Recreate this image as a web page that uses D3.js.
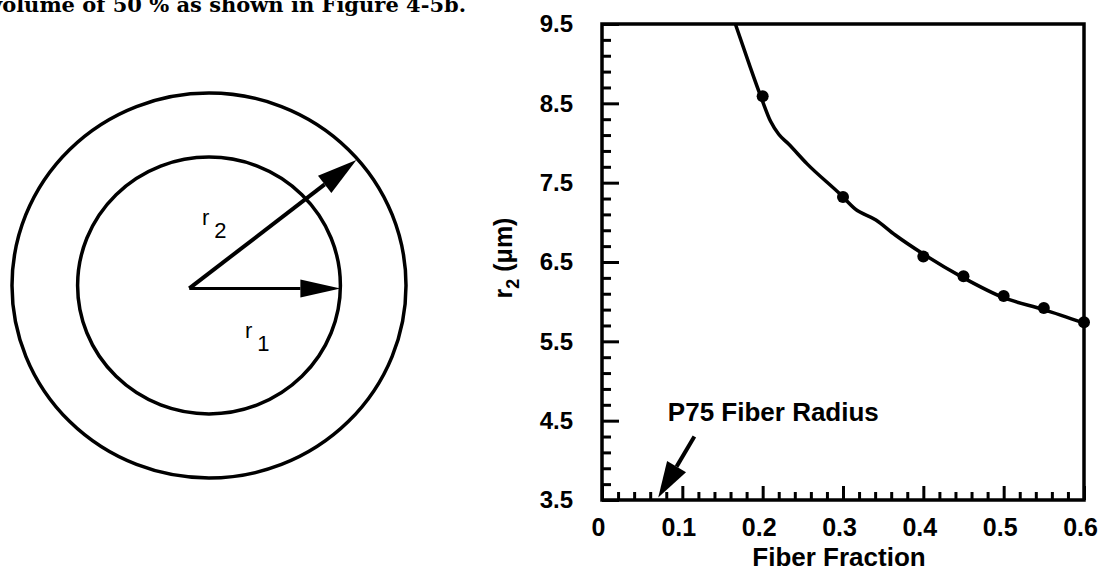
<!DOCTYPE html>
<html>
<head>
<meta charset="utf-8">
<script src="https://cdn.jsdelivr.net/npm/d3@7"></script>
<style>
  body { margin: 0; background: #fff; }
  svg text { font-family: "Liberation Sans", Arial, sans-serif; fill: #000; }
</style>
</head>
<body>
<div id="chart"></div>
<script>
// Values
var markerX = [0.2, 0.3, 0.4, 0.45, 0.5, 0.55, 0.6];
var markerY = [8.59, 7.32, 6.57, 6.32, 6.07, 5.92, 5.74];

// fitted curve drawn through the markers
var curveX = [0.166, 0.183, 0.199, 0.21, 0.22, 0.232, 0.255, 0.297, 0.315, 0.341, 0.365, 0.4, 0.45, 0.5, 0.55, 0.6];
var curveY = [9.5, 9.0, 8.55, 8.27, 8.11, 7.99, 7.74, 7.35, 7.17, 7.03, 6.84, 6.6, 6.3, 6.05, 5.9, 5.73];

var xTicks = [0, 0.1, 0.2, 0.3, 0.4, 0.5, 0.6];
var xTickLabels = ["0", "0.1", "0.2", "0.3", "0.4", "0.5", "0.6"];
var yTicks = [3.5, 4.5, 5.5, 6.5, 7.5, 8.5, 9.5];
var yTickLabels = ["3.5", "4.5", "5.5", "6.5", "7.5", "8.5", "9.5"];

var width = 1114, height = 574;

var svg = d3.select("#chart")
    .append("svg")
    .attr("width", width)
    .attr("height", height);

// cut-off line of body text at the top of the page
svg.append("text")
    .attr("x", 466)
    .attr("y", 12)
    .attr("text-anchor", "end")
    .style("font-family", "'DejaVu Serif', serif")
    .style("font-weight", "bold")
    .style("font-size", "21px")
    .text("volume of 50 % as shown in Figure 4-5b.");

// ---------- left: fiber / matrix cell diagram ----------
var dx = d3.scaleLinear().domain([-1, 1]).range([12, 406]);
var dy = d3.scaleLinear().domain([-1, 1]).range([478, 93]);
var r1 = 0.667, r2 = 1;
var origin = [-0.1, -0.015];

var diag = svg.append("g");

diag.selectAll("ellipse")
    .data([r2, r1])
    .enter()
    .append("ellipse")
    .attr("cx", dx(0))
    .attr("cy", dy(0))
    .attr("rx", function(d) { return dx(d) - dx(0); })
    .attr("ry", function(d) { return dy(0) - dy(d); })
    .attr("fill", "none")
    .attr("stroke", "#000")
    .attr("stroke-width", 3.5);

function arrow(g, x1, y1, x2, y2, w, headLen, headHalf) {
    var ang = Math.atan2(y2 - y1, x2 - x1);
    var bx = x2 - headLen * Math.cos(ang), by = y2 - headLen * Math.sin(ang);
    g.append("line")
        .attr("x1", x1).attr("y1", y1)
        .attr("x2", bx).attr("y2", by)
        .attr("stroke", "#000")
        .attr("stroke-width", w);
    var px = -Math.sin(ang) * headHalf, py = Math.cos(ang) * headHalf;
    g.append("path")
        .attr("d", "M" + x2 + "," + y2 +
                   "L" + (bx + px) + "," + (by + py) +
                   "L" + (bx - px) + "," + (by - py) + "Z")
        .attr("fill", "#000");
}

var ox = dx(origin[0]), oy = dy(origin[1]);
// r1 to the inner circle, r2 to the outer circle
var a2 = 0.71;
arrow(diag, ox, oy, dx(r1), oy, 3, 40, 9);
arrow(diag, ox, oy, dx(0) + (dx(r2) - dx(0)) * Math.cos(a2) - 2, dy(0) - (dy(0) - dy(r2)) * Math.sin(a2), 4, 40, 11);

function radiusLabel(x, y, sub) {
    var t = diag.append("text")
        .attr("x", x)
        .attr("y", y)
        .style("font-size", "22px");
    t.append("tspan").text("r");
    t.append("tspan").attr("dx", 5).attr("dy", 13).text(sub);
}
radiusLabel(202, 225, "2");
radiusLabel(245, 338, "1");

// ---------- right: r2 vs fiber fraction ----------
var x = d3.scaleLinear().domain([0, 0.6]).range([602, 1084]);
var y = d3.scaleLinear().domain([3.5, 9.5]).range([500, 24]);

var plot = svg.append("g");

// minor ticks
var xMinor = d3.range(0.02, 0.6, 0.02).filter(function(v) { return Math.abs(v * 10 - Math.round(v * 10)) > 1e-6; });
var yMinor = d3.range(3.7, 9.5, 0.2).filter(function(v) { return Math.abs((v - 3.5) - Math.round(v - 3.5)) > 1e-6; });

plot.append("g")
    .attr("transform", "translate(0,500)")
    .call(d3.axisBottom(x).tickValues(xMinor).tickSizeInner(-8).tickSizeOuter(0).tickFormat(""))
    .call(function(g) { g.select(".domain").remove(); })
    .selectAll("line").attr("stroke-width", 3);

plot.append("g")
    .attr("transform", "translate(602,0)")
    .call(d3.axisLeft(y).tickValues(yMinor).tickSizeInner(-9).tickSizeOuter(0).tickFormat(""))
    .call(function(g) { g.select(".domain").remove(); })
    .selectAll("line").attr("stroke-width", 3);

// major ticks with labels
var xAxis = plot.append("g")
    .attr("transform", "translate(0,500)")
    .call(d3.axisBottom(x).tickValues(xTicks).tickSizeInner(-14).tickSizeOuter(0).tickPadding(18)
        .tickFormat(function(d, i) { return xTickLabels[i]; }));
xAxis.select(".domain").remove();
xAxis.selectAll("line").attr("stroke-width", 3);
xAxis.selectAll("text")
    .attr("dx", -4)
    .style("font-size", "25px")
    .style("font-weight", "bold")
    .style("font-family", "'Liberation Sans', Arial, sans-serif");

var yAxis = plot.append("g")
    .attr("transform", "translate(602,0)")
    .call(d3.axisLeft(y).tickValues(yTicks).tickSizeInner(-17).tickSizeOuter(0).tickPadding(29)
        .tickFormat(function(d, i) { return yTickLabels[i]; }));
yAxis.select(".domain").remove();
yAxis.selectAll("line").attr("stroke-width", 3);
yAxis.selectAll("text")
    .style("font-size", "24px")
    .style("font-weight", "bold")
    .style("font-family", "'Liberation Sans', Arial, sans-serif");

// frame
plot.append("rect")
    .attr("x", x(0))
    .attr("y", y(9.5))
    .attr("width", x(0.6) - x(0))
    .attr("height", y(3.5) - y(9.5))
    .attr("fill", "none")
    .attr("stroke", "#000")
    .attr("stroke-width", 3.5);

// fitted curve
var line = d3.line()
    .x(function(d) { return x(d[0]); })
    .y(function(d) { return y(d[1]); })
    .curve(d3.curveMonotoneX);

plot.append("path")
    .datum(d3.zip(curveX, curveY))
    .attr("d", line)
    .attr("fill", "none")
    .attr("stroke", "#000")
    .attr("stroke-width", 3.5);

// markers
plot.selectAll("circle")
    .data(d3.zip(markerX, markerY))
    .enter()
    .append("circle")
    .attr("cx", function(d) { return x(d[0]); })
    .attr("cy", function(d) { return y(d[1]); })
    .attr("r", 6)
    .attr("fill", "#000");

// annotation
plot.append("text")
    .attr("x", x(0.082))
    .attr("y", y(4.49))
    .style("font-size", "26px")
    .style("font-weight", "bold")
    .text("P75 Fiber Radius");
arrow(plot, x(0.115), y(4.3), x(0.07), y(3.53), 4, 36, 11);

// axis titles
plot.append("text")
    .attr("x", (x(0) + x(0.6)) / 2 - 4)
    .attr("y", 566)
    .attr("text-anchor", "middle")
    .style("font-size", "26px")
    .style("font-weight", "bold")
    .text("Fiber Fraction");

var yt = plot.append("text")
    .attr("transform", "translate(512," + (y(6.5) - 4) + ") rotate(-90)")
    .attr("text-anchor", "middle")
    .style("font-size", "25px")
    .style("font-weight", "bold");
yt.append("tspan").text("r");
yt.append("tspan").attr("dy", 7).style("font-size", "18px").text("2");
yt.append("tspan").attr("dy", -7).text(" (\u03bcm)");
</script>
</body>
</html>
